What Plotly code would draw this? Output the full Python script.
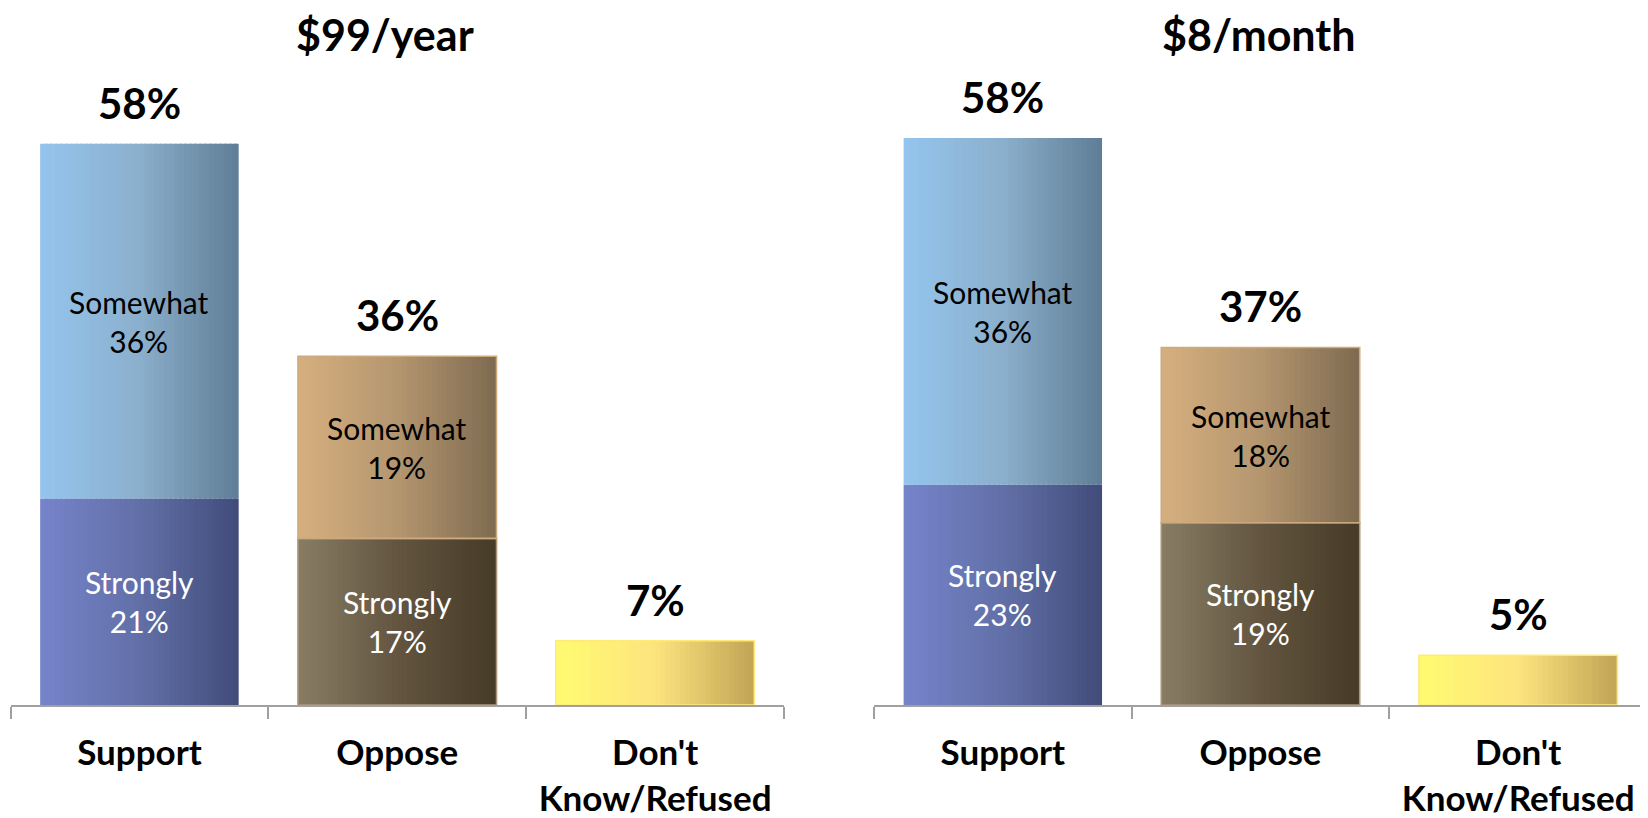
import plotly.graph_objects as go

# ---------------- data (bar heights; labels are rounded) ----------------
panels = ["$99/year", "$8/month"]
categories = ["Support", "Oppose", "Don't<br>Know/Refused"]
support_strongly = [21.2, 22.6]
support_somewhat = [36.4, 35.6]
oppose_strongly = [17.1, 18.7]
oppose_somewhat = [18.7, 18.0]
dk_total = [6.6, 5.1]

# ---------------- style ----------------
FONT = "Lato"
BAR_W = 0.77
N_SLICES = 40
W, H = 1640, 810
M_TOP, M_BOT = 15, 109
grad = {
    "sup_some": ["#94C5EE", "#8BAFCC", "#5F7D96"],
    "sup_str": ["#7683CA", "#6270A8", "#414C7A"],
    "opp_some": ["#D6AF7E", "#B4966F", "#7E6A50"],
    "opp_str": ["#887D64", "#635540", "#463B27"],
    "dk": ["#FFFB70", "#FDE47E", "#C2A455"],
}
borders = {"opp_some": "#CDAA7E", "opp_str": "#A89578", "dk": "#FFEA78"}


def hex2rgb(h):
    h = h.lstrip("#")
    return [int(h[i:i + 2], 16) for i in (0, 2, 4)]


def interp(stops, t):
    if t <= 0.5:
        a, b, u = hex2rgb(stops[0]), hex2rgb(stops[1]), t / 0.5
    else:
        a, b, u = hex2rgb(stops[1]), hex2rgb(stops[2]), (t - 0.5) / 0.5
    c = [round(a[k] + (b[k] - a[k]) * u) for k in range(3)]
    return f"rgb({c[0]},{c[1]},{c[2]})"


def pct(v):
    return f"{int(v + 0.5)}%"


fig = go.Figure()
axes = [("x", "y"), ("x2", "y2")]


def gradient_bar(xa, ya, cat, value, base, key):
    step = BAR_W / N_SLICES
    for i in range(N_SLICES):
        w = step * 1.6 if i < N_SLICES - 1 else step
        fig.add_trace(go.Bar(
            x=[cat], y=[value], base=[base], width=[w], offset=-BAR_W / 2 + i * step,
            marker=dict(color=interp(grad[key], (i + 0.5) / N_SLICES), line=dict(width=0)),
            xaxis=xa, yaxis=ya, showlegend=False, hoverinfo="skip",
        ))
    if key in borders:
        fig.add_trace(go.Bar(
            x=[cat], y=[value], base=[base], width=[BAR_W], offset=-BAR_W / 2,
            marker=dict(color="rgba(0,0,0,0)", line=dict(width=1.6, color=borders[key])),
            xaxis=xa, yaxis=ya, showlegend=False, hoverinfo="skip",
        ))


annotations = []
for p, (xa, ya) in enumerate(axes):
    xr = "x" if p == 0 else "x2"
    yr = "y" if p == 0 else "y2"
    segs = [
        (categories[0], support_strongly[p], 0, "sup_str", "Strongly", "white"),
        (categories[0], support_somewhat[p], support_strongly[p], "sup_some", "Somewhat", "black"),
        (categories[1], oppose_strongly[p], 0, "opp_str", "Strongly", "white"),
        (categories[1], oppose_somewhat[p], oppose_strongly[p], "opp_some", "Somewhat", "black"),
        (categories[2], dk_total[p], 0, "dk", None, None),
    ]
    for cat, val, base, key, lab, col in segs:
        gradient_bar(xa, ya, cat, val, base, key)
        if lab:
            annotations.append(dict(
                x=cat, y=base + val / 2, xref=xr, yref=yr, text=f"{lab}<br>{pct(val)}",
                showarrow=False, font=dict(family=FONT, size=30, color=col),
                xanchor="center", yanchor="middle",
            ))
    tops = [
        (categories[0], support_strongly[p] + support_somewhat[p]),
        (categories[1], oppose_strongly[p] + oppose_somewhat[p]),
        (categories[2], dk_total[p]),
    ]
    for cat, top in tops:
        annotations.append(dict(
            x=cat, y=top, xref=xr, yref=yr, text=pct(top), showarrow=False,
            font=dict(family=FONT, size=42, color="black", weight="bold"),
            xanchor="center", yanchor="bottom", yshift=14,
        ))

plot_h = H - M_TOP - M_BOT
title_x = [377 / W, 1251 / W]
for p, t in enumerate(panels):
    annotations.append(dict(
        x=title_x[p], y=1 + M_TOP / plot_h, xref="paper", yref="paper", text=t,
        showarrow=False, font=dict(family=FONT, size=43, color="black", weight="bold"),
        xanchor="center", yanchor="top", borderpad=0,
    ))

xaxis_common = dict(
    type="category", categoryorder="array", categoryarray=categories,
    range=[-0.5, 2.5], showgrid=False, zeroline=False,
    showline=True, linecolor="#A0A0A0", linewidth=2,
    ticks="outside", tickson="boundaries", ticklen=12, tickwidth=2, tickcolor="#A0A0A0",
    tickfont=dict(family=FONT, size=35, color="black", weight="bold"),
    ticklabelstandoff=16, fixedrange=True,
)
yaxis_common = dict(range=[0, 70], visible=False, fixedrange=True)

fig.update_layout(
    width=W, height=H,
    margin=dict(l=0, r=0, t=M_TOP, b=M_BOT),
    paper_bgcolor="white", plot_bgcolor="white",
    barmode="overlay", showlegend=False,
    xaxis=dict(domain=[2.5 / W, 776 / W], anchor="y", **xaxis_common),
    xaxis2=dict(domain=[866 / W, 0.9994], anchor="y2", **xaxis_common),
    yaxis=dict(anchor="x", **yaxis_common),
    yaxis2=dict(anchor="x2", **yaxis_common),
    annotations=annotations,
)

fig.write_html("out.html")
